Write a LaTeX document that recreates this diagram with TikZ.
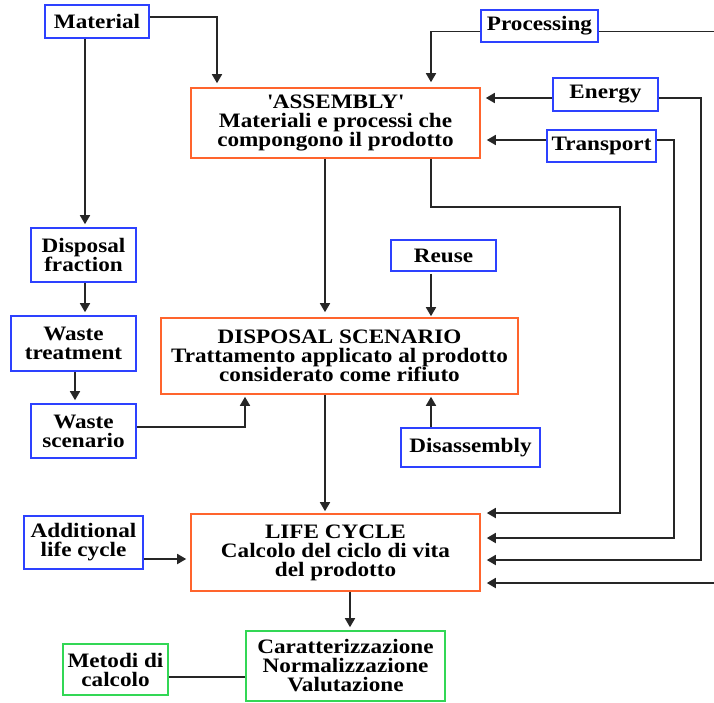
\documentclass[tikz,border=0pt]{standalone}
\usepackage{fontspec}
\setmainfont{Liberation Serif}[FakeStretch=1.13]
\usetikzlibrary{arrows.meta}
\newcommand\straightq{\XeTeXglyph\XeTeXcharglyph"27\relax}
\definecolor{bbox}{RGB}{45,65,255}
\definecolor{obox}{RGB}{255,100,45}
\definecolor{gbox}{RGB}{50,215,85}
\tikzset{
  x=1pt,y=-1pt,
  box/.style={draw, line width=1.6pt, fill=white, inner sep=0pt, align=center,
    font=\bfseries\fontsize{20.5}{19}\selectfont},
  bluebox/.style={box, draw=bbox},
  orangebox/.style={box, draw=obox},
  greenbox/.style={box, draw=gbox},
  conn/.style={draw=black!85, line width=1.7pt},
  arr/.style={conn, -{Triangle[length=9pt,width=10pt]}},
}
\begin{document}
\begin{tikzpicture}
\useasboundingbox[fill=white] (0,0) rectangle (714,702);
% nodes
\node[bluebox, minimum width=104pt, minimum height=33pt] (mat) at (97,21.5) {Material};
\node[orangebox, minimum width=289pt, minimum height=70pt] (asm) at (335.5,123) {\straightq ASSEMBLY\straightq\\Materiali e processi che\\compongono il prodotto};
\node[bluebox, minimum width=117pt, minimum height=32pt] (proc) at (539.5,26) {Processing};
\node[bluebox, minimum width=105pt, minimum height=33pt] (energy) at (605.5,94.5) {Energy};
\node[bluebox, minimum width=109pt, minimum height=32pt] (trans) at (601.5,146) {Transport};
\node[bluebox, minimum width=105pt, minimum height=54pt] (disfrac) at (83.5,255) {Disposal\\fraction};
\node[bluebox, minimum width=125pt, minimum height=55pt] (wtreat) at (73.5,343.5) {Waste\\treatment};
\node[bluebox, minimum width=105pt, minimum height=54pt] (wscen) at (83.5,431) {Waste\\scenario};
\node[orangebox, minimum width=357pt, minimum height=76pt] (dscen) at (339.5,356) {DISPOSAL SCENARIO\\Trattamento applicato al prodotto\\considerato come rifiuto};
\node[bluebox, minimum width=105pt, minimum height=31pt] (reuse) at (443.5,255.5) {Reuse};
\node[bluebox, minimum width=139pt, minimum height=39pt] (disass) at (470.5,447.5) {Disassembly};
\node[orangebox, minimum width=289pt, minimum height=77pt] (lc) at (335.5,552.5) {LIFE CYCLE\\Calcolo del ciclo di vita\\del prodotto};
\node[bluebox, minimum width=119pt, minimum height=53pt] (addlc) at (83.5,542.5) {Additional\\life cycle};
\node[greenbox, minimum width=199pt, minimum height=70pt] (val) at (345.5,666) {Caratterizzazione\\Normalizzazione\\Valutazione};
\node[greenbox, minimum width=105pt, minimum height=51pt] (met) at (115.5,669.5) {Metodi di\\calcolo};
\coordinate (farright) at (717,31.5);
% connectors
\draw[arr, shorten >=4pt] ([yshift=4.5pt]mat.east) -| ([xshift=-118.5pt]asm.north);
\draw[arr, shorten >=3pt] ([xshift=-12pt]mat.south) -- ([xshift=-12pt]mat.south |- disfrac.north);
\draw[arr, shorten >=3pt] ([xshift=1.5pt]disfrac.south) -- ([xshift=1.5pt]disfrac.south |- wtreat.north);
\draw[arr, shorten >=3pt] ([xshift=1.5pt]wtreat.south) -- ([xshift=1.5pt]wtreat.south |- wscen.north);
\draw[arr, shorten >=2pt] ([yshift=4pt]wscen.east) -| ([xshift=-94.5pt]dscen.south);
\draw[arr, shorten >=5pt] ([yshift=-5.5pt]proc.west) -| ([xshift=95.5pt]asm.north);
\draw[arr, shorten >=6pt] ([yshift=-5.5pt]proc.east) -- (farright) |- ([yshift=-30.5pt]lc.east);
\draw[arr, shorten >=5pt] ([yshift=-3.5pt]energy.west) -- ([yshift=-3.5pt]energy.west -| asm.east);
\draw[arr, shorten >=6pt] ([yshift=-3.5pt]energy.east) -- ++(42,0) |- ([yshift=-7.5pt]lc.east);
\draw[arr, shorten >=6pt] ([yshift=6pt]trans.west) -- ([yshift=6pt]trans.west -| asm.east);
\draw[arr, shorten >=6pt] ([yshift=6pt]trans.east) -- ++(17,0) |- ([yshift=14.5pt]lc.east);
\draw[arr, shorten >=6pt] ([xshift=95.5pt]asm.south) -- ++(0,48) -| ++(189,0) |- ([yshift=39.5pt]lc.east);
\draw[arr, shorten >=5pt] ([xshift=-10.5pt]asm.south) -- ([xshift=-10.5pt]asm.south |- dscen.north);
\draw[arr, shorten >=1pt] ([xshift=-12.5pt,yshift=-2pt]reuse.south) -- ([xshift=-12.5pt]reuse.south |- dscen.north);
\draw[arr, shorten >=2pt] ([xshift=-39.5pt]disass.north) -- ([xshift=-39.5pt]disass.north |- dscen.south);
\draw[arr, shorten >=2pt] ([xshift=-14.5pt]dscen.south) -- ([xshift=-14.5pt]dscen.south |- lc.north);
\draw[arr, shorten >=4pt] ([yshift=-16.5pt]addlc.east) -- ([yshift=-16.5pt]addlc.east -| lc.west);
\draw[arr, shorten >=3pt] ([xshift=14.5pt]lc.south) -- ([xshift=14.5pt]lc.south |- val.north);
\draw[conn] ([yshift=-7.5pt]met.east) -- ([yshift=-7.5pt]met.east -| val.west);
\end{tikzpicture}
\end{document}
